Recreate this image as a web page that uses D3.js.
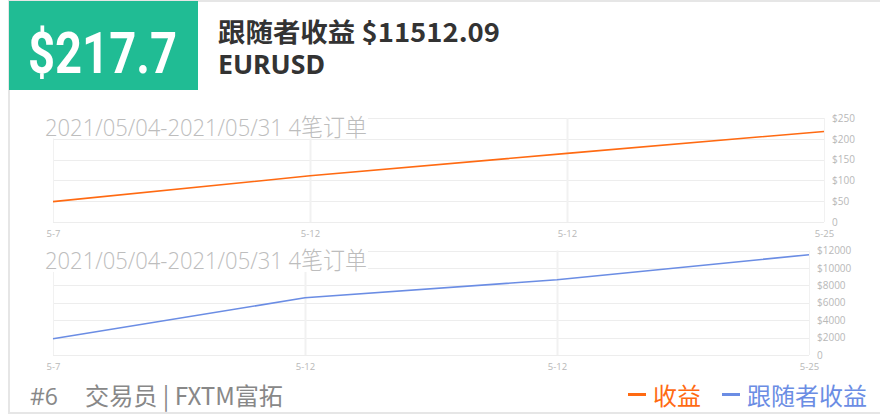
<!DOCTYPE html>
<html>
<head>
<meta charset="utf-8">
<script src="https://cdn.jsdelivr.net/npm/d3@7/dist/d3.min.js"></script>
<style>
  body { margin: 0; background: #fff; }
  svg { display: block; font-family: "Noto Sans CJK SC", "Noto Sans", sans-serif; }
</style>
</head>
<body>
<svg id="card" width="880" height="419"></svg>
<script>
// chart data
var dates = ["5-7", "5-12", "5-12", "5-25"];
var profit = [49, 111, 165, 217.7];
var followerProfit = [1870, 6570, 8640, 11512.09];
var profitTicks = [0, 50, 100, 150, 200, 250];
var followerTicks = [0, 2000, 4000, 6000, 8000, 10000, 12000];
var periodText = "2021/05/04-2021/05/31 4笔订单";
var headline = "$217.7";
var followerTitle = "跟随者收益 $11512.09";
var symbol = "EURUSD";
var traderText = "交易员 | FXTM富拓";
var rankText = "#6";
var legendNames = ["收益", "跟随者收益"];

var orange = "#ff6a12",
    blue = "#6b8de4",
    gridColor = "#ededed";

var svg = d3.select("#card");

// card frame
svg.append("path")
  .attr("d", "M880,1 H9 V413 H880")
  .attr("fill", "none")
  .attr("stroke", "#e6e6e6")
  .attr("stroke-width", 2);

// green badge
svg.append("rect")
  .attr("x", 9).attr("y", 1)
  .attr("width", 189).attr("height", 89)
  .attr("fill", "#20bc94");

svg.append("text")
  .attr("x", 28).attr("y", 73)
  .attr("fill", "#fff")
  .attr("font-family", "Roboto, sans-serif")
  .attr("font-weight", "bold")
  .attr("font-size", 58)
  .attr("textLength", 149)
  .attr("lengthAdjust", "spacingAndGlyphs")
  .text(headline);

svg.append("text")
  .attr("x", 218).attr("y", 42)
  .attr("fill", "#333")
  .attr("font-weight", "bold")
  .attr("font-size", 26)
  .attr("textLength", 282)
  .attr("lengthAdjust", "spacingAndGlyphs")
  .text(followerTitle);

svg.append("text")
  .attr("x", 218).attr("y", 74)
  .attr("fill", "#333")
  .attr("font-family", "'Noto Sans', sans-serif")
  .attr("font-weight", "bold")
  .attr("font-size", 26)
  .attr("textLength", 107)
  .attr("lengthAdjust", "spacingAndGlyphs")
  .text(symbol);

/**
 * draw one small line chart
 */
function drawChart(values, ticks, left, right, top, bottom, color, titleY) {
  var g = svg.append("g");

  var xScale = d3.scalePoint()
    .domain(d3.range(values.length))
    .range([left, right]);

  var yScale = d3.scaleLinear()
    .domain([0, d3.max(ticks)])
    .range([bottom, top]);

  // horizontal grid
  g.selectAll(".hgrid").data(ticks).enter().append("line")
    .attr("x1", left).attr("x2", right)
    .attr("y1", function (d) { return Math.round(yScale(d)) + 0.5; })
    .attr("y2", function (d) { return Math.round(yScale(d)) + 0.5; })
    .attr("stroke", gridColor);

  // vertical grid
  g.selectAll(".vgrid").data(d3.range(values.length)).enter().append("line")
    .attr("x1", function (d) { return Math.round(xScale(d)) + 0.5; })
    .attr("x2", function (d) { return Math.round(xScale(d)) + 0.5; })
    .attr("y1", top).attr("y2", bottom)
    .attr("stroke", "#f1f1f1")
    .attr("stroke-width", function (d) { return d == 1 || d == 2 ? 2 : 1; });

  // y axis on the right
  var yAxis = d3.axisRight(yScale)
    .tickValues(ticks)
    .tickSize(0)
    .tickPadding(8)
    .tickFormat(function (d) { return d == 0 ? "0" : "$" + d; });

  var ya = g.append("g")
    .attr("transform", "translate(" + right + ",0)")
    .call(yAxis);
  ya.select(".domain").remove();
  ya.selectAll("text")
    .attr("fill", "#b8b8b8")
    .attr("font-size", 10)
    .attr("font-family", "'Open Sans', sans-serif");

  // x axis
  var xAxis = d3.axisBottom(xScale)
    .tickSize(0)
    .tickPadding(8)
    .tickFormat(function (i) { return dates[i]; });

  var xa = g.append("g")
    .attr("transform", "translate(0," + bottom + ")")
    .call(xAxis);
  xa.select(".domain").remove();
  xa.selectAll("text")
    .attr("fill", "#b8b8b8")
    .attr("font-size", 9.5)
    .attr("font-family", "'Open Sans', sans-serif");

  // the line
  var line = d3.line()
    .x(function (d, i) { return xScale(i); })
    .y(function (d) { return yScale(d); });

  g.append("path")
    .datum(values)
    .attr("d", line)
    .attr("fill", "none")
    .attr("stroke", color)
    .attr("stroke-width", 1.6);

  // title with white box over the grid
  g.append("rect")
    .attr("x", 43).attr("y", titleY - 24)
    .attr("width", 325).attr("height", 27)
    .attr("fill", "#fff");

  g.append("text")
    .attr("x", 45).attr("y", titleY)
    .attr("fill", "#bdbdbd")
    .attr("font-size", 24)
    .attr("font-family", "'Open Sans', 'Noto Sans CJK SC', sans-serif")
    .attr("font-weight", 300)
    .attr("textLength", 322)
    .attr("lengthAdjust", "spacingAndGlyphs")
    .text(periodText);
}

drawChart(profit, profitTicks, 53, 824, 118, 222, orange, 135.5);
drawChart(followerProfit, followerTicks, 53, 809, 250.5, 355, blue, 269);

// footer
svg.append("text")
  .attr("x", 30).attr("y", 405)
  .attr("fill", "#888")
  .attr("font-size", 23)
  .attr("font-family", "'Open Sans', sans-serif")
  .text(rankText);

svg.append("text")
  .attr("x", 85).attr("y", 405)
  .attr("fill", "#888")
  .attr("font-size", 24)
  .attr("textLength", 198)
  .attr("lengthAdjust", "spacingAndGlyphs")
  .text(traderText);

// legend
var legendX = [628, 722];
var legendColors = [orange, blue];
var legend = svg.selectAll(".legend").data(legendNames).enter().append("g");

legend.append("line")
  .attr("x1", function (d, i) { return legendX[i]; })
  .attr("x2", function (d, i) { return legendX[i] + 18; })
  .attr("y1", 394.5).attr("y2", 394.5)
  .attr("stroke", function (d, i) { return legendColors[i]; })
  .attr("stroke-width", 3);

legend.append("text")
  .attr("x", function (d, i) { return legendX[i] + 25; })
  .attr("y", 405)
  .attr("fill", function (d, i) { return legendColors[i]; })
  .attr("font-size", 24)
  .text(function (d) { return d; });
</script>
</body>
</html>
